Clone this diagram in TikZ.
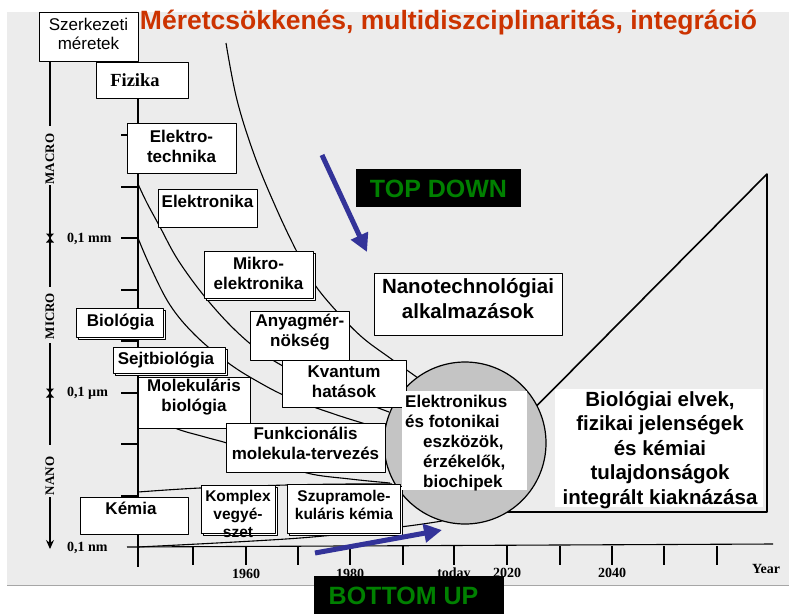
\documentclass[tikz,border=0pt]{standalone}
\usepackage{fontspec}
\setmainfont{Liberation Sans}
\newfontfamily\serf{Liberation Serif}
\usetikzlibrary{arrows.meta,shadows}
\definecolor{bggray}{RGB}{236,236,236}
\definecolor{titlered}{RGB}{204,51,0}
\definecolor{tdgreen}{RGB}{0,128,0}
\definecolor{arrblue}{RGB}{51,51,153}
\definecolor{circgray}{RGB}{196,196,196}
\newcommand\bxf{\fontsize{17}{20}\selectfont\bfseries}
\newcommand\bigbxf{\fontsize{20.5}{24.5}\selectfont\bfseries}
\newcommand\smbxf{\fontsize{15.5}{18}\selectfont\bfseries}
\newcommand\axf{\serf\fontsize{14}{16}\selectfont\bfseries}
\tikzset{
  bx/.style={draw=black, fill=white, line width=0.9pt, inner sep=0pt},
  shbx/.style={bx, copy shadow={shadow xshift=2.5pt, shadow yshift=-2.5pt}},
  wbox/.style={fill=white, inner sep=0pt},
  lbl/.style={font=\bxf, align=center, inner sep=0pt},
  axlbl/.style={font=\axf, inner sep=0pt, anchor=west},
  zone/.style={font=\serf\fontsize{13}{15}\selectfont\bfseries, rotate=90, inner sep=0pt},
  crv/.style={line width=1.1pt},
  axline/.style={line width=1.1pt},
  bluearr/.style={draw=arrblue, line width=5pt, -{Triangle[length=18pt,width=18pt]}},
  blackbox/.style={fill=black, inner sep=0pt},
  bigword/.style={font=\fontsize{25}{28}\selectfont\bfseries, text=tdgreen, inner sep=0pt}
}
\begin{document}
\begin{tikzpicture}[x=1pt,y=-1pt,line join=round]
\useasboundingbox (0,0) rectangle (789,613);
\fill[white] (0,0) rectangle (789,613);
\fill[bggray] (7,12) rectangle (789,585);
\draw[gray!70, line width=1pt] (7,585) -- (789,585);

% title
\node[font=\fontsize{26.5}{30}\selectfont\bfseries, text=titlered, anchor=base, inner sep=0pt] (title) at (448.5,29) {Méretcsökkenés, multidiszciplinaritás, integráció};

% left size axis
\draw[axline] (50,61) -- (50,126);
\draw[axline] (50,185) -- (50,287);
\draw[axline] (50,343) -- (50,445);
\draw[axline, -{Stealth[length=9pt,width=8pt]}] (50,497) -- (50,549);
\fill (46,233.5) -- (54,233.5) -- (46,242.5) -- (54,242.5) -- cycle;
\fill (46,388.5) -- (54,388.5) -- (46,397.5) -- (54,397.5) -- cycle;
\node[zone] (macro) at (50,159) {MACRO};
\node[zone] (micro) at (50,316) {MICRO};
\node[zone] (nano) at (50,476) {NANO};
\node[axlbl] (mm) at (67,239) {0,1 mm};
\node[axlbl] (um) at (67,393) {0,1 µm};
\node[axlbl] (nm) at (67,548) {0,1 nm};

% main axes
\draw[axline] (138,98) -- (138,567);
\foreach \yy in {135,187,238,290,341,393,444,496} \draw[axline] (121,\yy) -- (138,\yy);
\draw[axline] (127,547) -- (773,544);
\foreach \xx in {193,246,298,350,403,454,507,560,612,664,717} \draw[axline] (\xx,546) -- (\xx,565);
\node[font=\axf, inner sep=0pt] (y1960) at (246,574) {1960};
\node[font=\axf, inner sep=0pt] (y1980) at (350,574) {1980};
\node[font=\axf, inner sep=0pt] (ytoday) at (454,574) {today};
\node[font=\axf, inner sep=0pt] (y2020) at (507,573) {2020};
\node[font=\axf, inner sep=0pt] (y2040) at (612,573) {2040};
\node[font=\axf, inner sep=0pt] (year) at (766,569) {Year};

% fan of curves
\draw[crv] plot[smooth, tension=0.6] coordinates {(226,43) (237,100) (255,157) (277,210) (297,252) (315,285) (340,315) (363,338) (390,358) (418,378)};
\draw[crv] plot[smooth, tension=0.6] coordinates {(138,184) (147,203) (160,227) (178,260) (205,297) (235,330) (265,355) (300,375) (345,395) (389,412)};
\draw[crv] plot[smooth, tension=0.6] coordinates {(138,238) (150,266) (170,305) (195,335) (227,362) (255,380) (290,398) (340,416) (386,430)};
\draw[crv] plot[smooth, tension=0.6] coordinates {(138,393) (155,415) (175,428) (205,437) (230,444) (270,458) (307,473) (350,479) (390,483)};
\draw[crv] plot[smooth, tension=0.6] coordinates {(138,492) (200,488) (287,485) (350,484) (392,484)};
\draw[crv] plot[smooth, tension=0.6] coordinates {(138,547) (300,538) (400,527) (442,521)};

% triangle
\coordinate (tritop) at (767,174);
\coordinate (tribr) at (767,512);
\coordinate (tribl) at (464,512);
\coordinate (tridiag) at (480,463);
\draw[line width=1.6pt] (tridiag) -- (tritop) -- (tribr) -- (tribl);

% circle
\node[circle, draw=black, fill=circgray, line width=1.2pt, minimum size=162, inner sep=0pt] (chip) at (465,443) {};

% boxes
\node[bx, minimum width=99, minimum height=49] (szerk) at (88.5,36.5) {};
\node[font=\fontsize{17}{19}\selectfont, align=center, inner sep=0pt] (tszerk) at (88.5,33.5) {Szerkezeti\\méretek};
\node[bx, minimum width=92, minimum height=36] (fiz) at (142,80) {};
\node[font=\serf\fontsize{18.5}{20}\selectfont\bfseries, inner sep=0pt] (tfiz) at (135,80) {Fizika};
\node[bx, minimum width=109, minimum height=50] (etech) at (181.5,148) {};
\node[lbl] (tetech) at (181.5,146) {Elektro-\\technika};
\node[bx, minimum width=99, minimum height=38] (eln) at (207.5,208) {};
\node[lbl] (teln) at (207.5,201) {Elektronika};
\node[shbx, minimum width=109, minimum height=47] (mikro) at (258.5,274.5) {};
\node[lbl] (tmikro) at (258.5,273) {Mikro-\\elektronika};
\node[shbx, minimum width=87, minimum height=29] (bio) at (119.5,322.5) {};
\node[lbl] (tbio) at (120.5,322) {Biológia};
\node[shbx, minimum width=112, minimum height=26] (sejt) at (169,360) {};
\node[lbl] (tsejt) at (166,360) {Sejtbiológia};
\node[bx, minimum width=112, minimum height=51] (molek) at (194,402.5) {};
\node[lbl] (tmolek) at (194,397.5) {Molekuláris\\biológia};
\node[bx, minimum width=99, minimum height=49] (anyag) at (299.5,335.5) {};
\node[lbl] (tanyag) at (300,332.5) {Anyagmér-\\nökség};
\node[bx, minimum width=124, minimum height=47] (kvant) at (344,383.5) {};
\node[lbl] (tkvant) at (344,381.5) {Kvantum\\hatások};
\node[bx, minimum width=159, minimum height=49] (funk) at (305.5,447.5) {};
\node[lbl] (tfunk) at (305.5,443.5) {Funkcionális\\molekula-tervezés};
\node[bx, minimum width=108, minimum height=37] (kemia) at (134,515.5) {};
\node[lbl] (tkemia) at (131,508) {Kémia};
\node[shbx, minimum width=74, minimum height=48] (kompl) at (238,509) {};
\node[font=\smbxf, align=center, inner sep=0pt] (tkompl) at (238,514) {Komplex\\vegyé-\\szet};
\draw[line width=0.9pt] (kompl.south west) -- (kompl.south east);
\node[shbx, minimum width=113, minimum height=49] (szupra) at (343.5,508.5) {};
\node[font=\smbxf, align=center, inner sep=0pt] (tszupra) at (344,504.5) {Szupramole-\\kuláris kémia};
\node[bx, minimum width=188, minimum height=62] (nanot) at (468,304) {};
\node[font=\bigbxf, align=center, inner sep=0pt] (tnanot) at (468,298.5) {Nanotechnológiai\\alkalmazások};

% white text panels
\node[wbox, minimum width=125, minimum height=99] (elpanel) at (464.5,440.5) {};
\node[lbl, align=left, anchor=west] (telpanel) at (405,443) {Elektronikus\\és fotonikai\\\hspace*{18pt}eszközök,\\\hspace*{18pt}érzékelők,\\\hspace*{18pt}biochipek};
\node[wbox, minimum width=208, minimum height=118] (biopanel) at (659,448) {};
\node[font=\bigbxf, align=center, inner sep=0pt] (tbiopanel) at (660,450) {Biológiai elvek,\\fizikai jelenségek\\és kémiai\\tulajdonságok\\integrált kiaknázása};

% arrows
\coordinate (tdstart) at (322,155);
\coordinate (tdend) at (367,252);
\draw[bluearr] (tdstart) -- (tdend);
\coordinate (bustart) at (315,553);
\coordinate (buend) at (442,530);
\draw[bluearr] (bustart) -- (buend);

% labels TOP DOWN / BOTTOM UP
\node[blackbox, minimum width=165, minimum height=38] (tdbox) at (438.5,188) {};
\node[bigword] (tdtext) at (438.5,189) {TOP DOWN};
\node[blackbox, minimum width=190, minimum height=38] (bubox) at (409,595) {};
\node[bigword] (butext) at (403.5,596) {BOTTOM UP};
\end{tikzpicture}
\end{document}
